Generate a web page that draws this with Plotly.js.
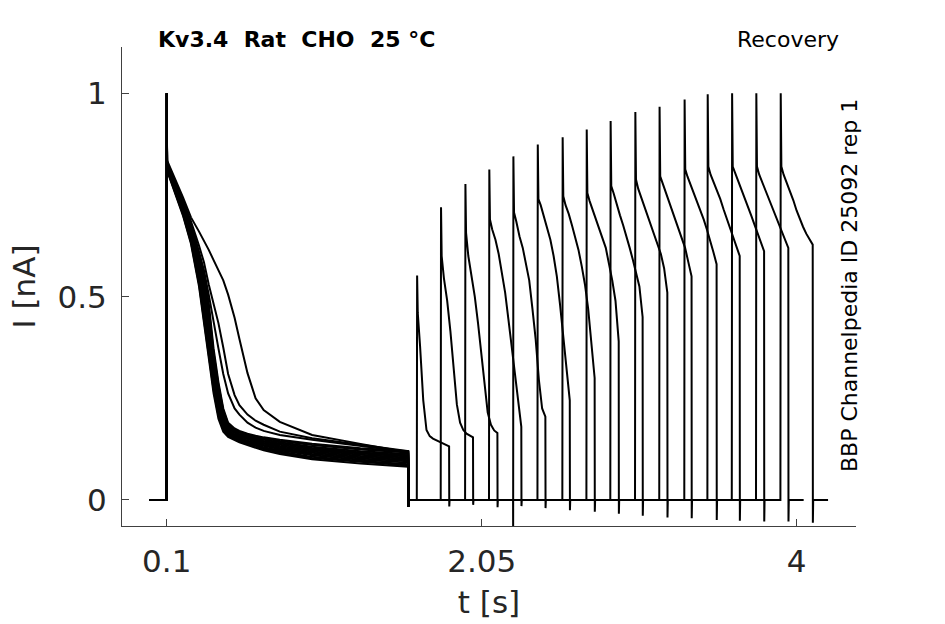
<!DOCTYPE html>
<html>
<head>
<meta charset="utf-8">
<script src="https://cdn.plot.ly/plotly-3.0.1.min.js"></script>
<style>
    html, body { margin: 0; padding: 0; background: #fff; }
    #plot { width: 945px; height: 624px; }
</style>
</head>
<body>
<div id="plot"></div>
<script>
// Kv3.4 recovery protocol, 16 sweeps (times in s, current in nA)

const sweep_start = -0.008
const p1_start = 0.1
const p1_peak = 1.0
const p1_end = 1.596
const p1_end_dip = -0.016

// first pulse: time grid shared by all sweeps
const p1_t = [0.102, 0.2, 0.25, 0.3, 0.33, 0.36, 0.39, 0.42, 0.45, 0.48, 0.52, 0.55, 0.6, 0.65, 0.7, 0.8, 1.0, 1.3, 1.595]

// first pulse current, one row per sweep
const p1_i = [
    [0.835, 0.745, 0.695, 0.66, 0.638, 0.615, 0.59, 0.567, 0.54, 0.505, 0.448, 0.396, 0.312, 0.25, 0.221, 0.192, 0.16, 0.138, 0.117],
    [0.828, 0.735, 0.685, 0.625, 0.585, 0.53, 0.485, 0.435, 0.375, 0.31, 0.258, 0.233, 0.21, 0.195, 0.185, 0.168, 0.152, 0.136, 0.12],
    [0.822, 0.73, 0.678, 0.61, 0.565, 0.505, 0.435, 0.373, 0.31, 0.262, 0.225, 0.21, 0.19, 0.178, 0.17, 0.16, 0.148, 0.133, 0.118],
    [0.83, 0.735, 0.68, 0.605, 0.56, 0.485, 0.372, 0.29, 0.225, 0.19, 0.176, 0.17, 0.163, 0.158, 0.154, 0.148, 0.138, 0.127, 0.12],
    [0.828, 0.732, 0.676, 0.598, 0.549, 0.472, 0.362, 0.282, 0.22, 0.187, 0.173, 0.167, 0.16, 0.155, 0.151, 0.145, 0.135, 0.124, 0.117],
    [0.826, 0.729, 0.671, 0.591, 0.538, 0.46, 0.352, 0.274, 0.215, 0.184, 0.171, 0.165, 0.158, 0.153, 0.148, 0.142, 0.131, 0.12, 0.113],
    [0.825, 0.726, 0.667, 0.583, 0.526, 0.447, 0.342, 0.266, 0.21, 0.181, 0.168, 0.162, 0.155, 0.15, 0.145, 0.139, 0.128, 0.117, 0.11],
    [0.823, 0.723, 0.663, 0.577, 0.516, 0.436, 0.334, 0.259, 0.205, 0.178, 0.166, 0.16, 0.153, 0.148, 0.143, 0.136, 0.125, 0.114, 0.107],
    [0.821, 0.72, 0.659, 0.571, 0.506, 0.425, 0.325, 0.251, 0.2, 0.175, 0.164, 0.158, 0.151, 0.145, 0.14, 0.133, 0.122, 0.111, 0.104],
    [0.82, 0.717, 0.655, 0.564, 0.496, 0.414, 0.316, 0.244, 0.196, 0.172, 0.161, 0.156, 0.149, 0.143, 0.138, 0.13, 0.119, 0.108, 0.101],
    [0.818, 0.714, 0.651, 0.558, 0.486, 0.402, 0.307, 0.237, 0.191, 0.169, 0.159, 0.153, 0.146, 0.14, 0.135, 0.127, 0.116, 0.105, 0.098],
    [0.817, 0.712, 0.647, 0.551, 0.476, 0.391, 0.298, 0.23, 0.187, 0.167, 0.157, 0.151, 0.144, 0.138, 0.133, 0.125, 0.113, 0.102, 0.095],
    [0.815, 0.709, 0.643, 0.545, 0.466, 0.38, 0.29, 0.223, 0.182, 0.164, 0.154, 0.149, 0.142, 0.136, 0.13, 0.122, 0.11, 0.099, 0.092],
    [0.813, 0.706, 0.639, 0.539, 0.456, 0.369, 0.281, 0.215, 0.178, 0.161, 0.152, 0.147, 0.14, 0.133, 0.127, 0.119, 0.106, 0.096, 0.088],
    [0.812, 0.703, 0.634, 0.531, 0.445, 0.356, 0.271, 0.207, 0.173, 0.158, 0.149, 0.144, 0.137, 0.13, 0.125, 0.116, 0.103, 0.093, 0.085],
    [0.81, 0.70, 0.63, 0.525, 0.435, 0.345, 0.262, 0.2, 0.168, 0.155, 0.147, 0.142, 0.135, 0.128, 0.122, 0.113, 0.1, 0.09, 0.082],
]

// second pulse
const p2_start = [1.648, 1.796, 1.947, 2.095, 2.244, 2.395, 2.549, 2.698, 2.846, 2.999, 3.149, 3.304, 3.447, 3.598, 3.748, 3.899]
const p2_peak = [0.552, 0.72, 0.777, 0.813, 0.845, 0.874, 0.892, 0.911, 0.932, 0.954, 0.967, 0.985, 0.998, 1.0, 1.0, 1.0]
const p2_onset_dip = [0, 0, 0, 0, -0.07, 0, 0, 0, 0, 0, 0, 0, 0, 0, 0, 0]
const p2_end_dip = [-0.016, -0.012, -0.018, -0.015, -0.02, -0.025, -0.029, -0.034, -0.039, -0.043, -0.045, -0.049, -0.051, -0.053, -0.053, -0.056]
const p2_len = 0.2
const sweep_tail = 0.095

// offsets from pulse onset, shared by all sweeps
const p2_dt = [0.006, 0.02, 0.04, 0.06, 0.08, 0.1, 0.12, 0.14, 0.16, 0.18, 0.2]

const p2_i = [
    [0.46, 0.38, 0.245, 0.172, 0.157, 0.151, 0.147, 0.144, 0.141, 0.137, 0.132],
    [0.60, 0.545, 0.49, 0.415, 0.32, 0.235, 0.19, 0.172, 0.163, 0.158, 0.154],
    [0.657, 0.60, 0.555, 0.50, 0.435, 0.36, 0.285, 0.215, 0.185, 0.171, 0.165],
    [0.69, 0.665, 0.64, 0.605, 0.56, 0.51, 0.445, 0.38, 0.31, 0.235, 0.18],
    [0.707, 0.685, 0.648, 0.62, 0.58, 0.54, 0.47, 0.395, 0.295, 0.225, 0.205],
    [0.74, 0.725, 0.695, 0.67, 0.64, 0.60, 0.55, 0.48, 0.40, 0.31, 0.245],
    [0.747, 0.725, 0.703, 0.675, 0.648, 0.615, 0.575, 0.53, 0.47, 0.38, 0.30],
    [0.755, 0.735, 0.712, 0.688, 0.665, 0.642, 0.62, 0.58, 0.54, 0.49, 0.39],
    [0.772, 0.755, 0.725, 0.70, 0.675, 0.65, 0.62, 0.59, 0.56, 0.525, 0.45],
    [0.788, 0.765, 0.742, 0.72, 0.70, 0.678, 0.655, 0.63, 0.605, 0.57, 0.51],
    [0.796, 0.78, 0.757, 0.735, 0.715, 0.69, 0.668, 0.645, 0.62, 0.585, 0.55],
    [0.813, 0.795, 0.775, 0.755, 0.735, 0.712, 0.69, 0.665, 0.64, 0.61, 0.58],
    [0.82, 0.80, 0.78, 0.76, 0.74, 0.715, 0.692, 0.668, 0.645, 0.62, 0.60],
    [0.82, 0.805, 0.785, 0.765, 0.745, 0.725, 0.70, 0.678, 0.655, 0.633, 0.612],
    [0.82, 0.80, 0.78, 0.76, 0.74, 0.717, 0.695, 0.675, 0.655, 0.635, 0.62],
    [0.82, 0.80, 0.78, 0.76, 0.737, 0.712, 0.69, 0.672, 0.655, 0.64, 0.628],
]

const x_tickvals = [0.1, 2.05, 4]
const x_ticktext = ["0.1", "2.05", "4"]
const y_tickvals = [0, 0.5, 1]
const y_ticktext = ["0", "0.5", "1"]

function build_sweep(k)
{
    let x = [sweep_start, p1_start, p1_start + 0.0005]
    let y = [0, 0, p1_peak]

    for (let i = 0; i < p1_t.length; i++) {
        x.push(p1_t[i])
        y.push(p1_i[k][i])
    }

    // back to holding
    x.push(p1_end, p1_end + 0.002, p2_start[k])
    y.push(p1_end_dip, 0, 0)

    const t0 = p2_start[k]
    if (p2_onset_dip[k] != 0) {
        x.push(t0 + 0.0005)
        y.push(p2_onset_dip[k])
    }
    x.push(t0 + 0.002)
    y.push(p2_peak[k])

    for (let i = 0; i < p2_dt.length; i++) {
        x.push(t0 + p2_dt[i])
        y.push(p2_i[k][i])
    }

    x.push(t0 + p2_len + 0.001, t0 + p2_len + 0.003, t0 + p2_len + sweep_tail)
    y.push(p2_end_dip[k], 0, 0)

    return {
        x: x,
        y: y,
        mode: 'lines',
        line: { color: 'black', width: 2 },
        hoverinfo: 'skip',
        showlegend: false
    }
}

let data = []
for (let k = 0; k < p1_i.length; k++) {
    data.push(build_sweep(k))
}

const axis_color = '#404040'
const label_font = { family: 'DejaVu Sans', size: 31, color: '#262626' }

const layout = {
    width: 945,
    height: 624,
    margin: { l: 122, r: 89, t: 47, b: 98 },
    paper_bgcolor: 'white',
    plot_bgcolor: 'white',
    showlegend: false,
    font: { family: 'DejaVu Sans', color: '#262626' },
    xaxis: {
        range: [-0.177, 4.367],
        tickvals: x_tickvals,
        ticktext: x_ticktext,
        ticks: 'inside',
        ticklen: 7,
        tickcolor: axis_color,
        tickfont: label_font,
        ticklabelstandoff: 8,
        showline: true,
        linecolor: axis_color,
        linewidth: 1,
        showgrid: false,
        zeroline: false,
        title: { text: 't [s]', font: label_font, standoff: 13 }
    },
    yaxis: {
        range: [-0.064, 1.114],
        tickvals: y_tickvals,
        ticktext: y_ticktext,
        ticks: 'inside',
        ticklen: 7,
        tickcolor: axis_color,
        tickfont: label_font,
        ticklabelstandoff: 8,
        showline: true,
        linecolor: axis_color,
        linewidth: 1,
        showgrid: false,
        zeroline: false,
        title: { text: 'I [nA]', font: label_font, standoff: 12 }
    },
    annotations: [
        {
            text: '<b>Kv3.4\u00a0\u00a0Rat\u00a0\u00a0CHO\u00a0\u00a025\u00a0°C</b>',
            xref: 'paper', yref: 'paper', x: 0.046, y: 1.0157,
            xanchor: 'left', yanchor: 'middle', showarrow: false,
            font: { family: 'DejaVu Sans', size: 22, color: 'black' }
        },
        {
            text: 'Recovery',
            xref: 'paper', yref: 'paper', x: 0.98, y: 1.0167,
            xanchor: 'right', yanchor: 'middle', showarrow: false,
            font: { family: 'DejaVu Sans', size: 22, color: 'black' }
        },
        {
            text: 'BBP Channelpedia ID 25092 rep 1',
            xref: 'paper', yref: 'paper', x: 0.9905, y: 0.501,
            xanchor: 'center', yanchor: 'middle', showarrow: false,
            textangle: -90,
            font: { family: 'DejaVu Sans', size: 22, color: 'black' }
        }
    ]
}

Plotly.newPlot('plot', data, layout, { displayModeBar: false, staticPlot: true })
</script>
</body>
</html>
